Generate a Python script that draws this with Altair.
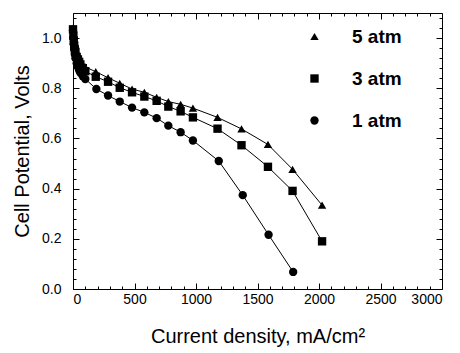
import altair as alt
import pandas as pd

# Current density (mA/cm2) and cell potential (V)
i_5 = [0, 3, 6, 10, 15, 20, 30, 40, 50, 60, 80, 100, 185, 285, 380, 480, 580, 680, 775, 875, 975, 1175, 1370, 1585, 1785, 2025]
v_5 = [1.04, 1.02, 1.00, 0.98, 0.965, 0.955, 0.94, 0.93, 0.92, 0.91, 0.895, 0.885, 0.866, 0.842, 0.820, 0.797, 0.784, 0.764, 0.747, 0.736, 0.721, 0.684, 0.638, 0.576, 0.477, 0.334]

i_3 = [0, 3, 6, 10, 15, 20, 30, 40, 50, 60, 80, 100, 185, 285, 380, 480, 580, 680, 775, 875, 975, 1175, 1370, 1585, 1785, 2025]
v_3 = [1.035, 1.01, 0.99, 0.97, 0.955, 0.945, 0.925, 0.915, 0.905, 0.895, 0.88, 0.868, 0.846, 0.826, 0.802, 0.784, 0.767, 0.750, 0.727, 0.708, 0.684, 0.639, 0.573, 0.487, 0.391, 0.19]

i_1 = [0, 3, 6, 10, 15, 20, 30, 40, 50, 60, 80, 100, 190, 285, 380, 480, 580, 680, 775, 875, 975, 1185, 1380, 1590, 1790]
v_1 = [1.03, 1.0, 0.975, 0.955, 0.935, 0.92, 0.90, 0.885, 0.872, 0.862, 0.848, 0.837, 0.797, 0.771, 0.747, 0.723, 0.704, 0.681, 0.651, 0.625, 0.592, 0.510, 0.374, 0.216, 0.068]

series = ["5 atm", "3 atm", "1 atm"]
shapes = ["triangle-up", "square", "circle"]

x_major = [0, 500, 1000, 1500, 2000, 2500, 3000]
x_minor = [v for v in range(0, 3001, 100) if v % 500 != 0]
y_major = [0.0, 0.2, 0.4, 0.6, 0.8, 1.0]
y_minor = [round(k * 0.04, 2) for k in range(0, 28) if round(k * 0.04, 2) not in y_major]

rows = []
for name, xs, vs in [("5 atm", i_5, v_5), ("3 atm", i_3, v_3), ("1 atm", i_1, v_1)]:
    for a, b in zip(xs, vs):
        rows.append({"I": a, "V": b, "P": name})
df = pd.DataFrame(rows)

FONT = "Liberation Sans"
xs = alt.Scale(domain=[0, 3000], nice=False, zero=False)
ys = alt.Scale(domain=[0, 1.1], nice=False, zero=False)

common = dict(grid=False, domain=False, tickColor="black", labelColor="black",
              titleColor="black", labelFont=FONT, titleFont=FONT, tickWidth=1)

ax_bottom = alt.Axis(orient="bottom", values=x_major, offset=-6, tickSize=6, labelPadding=3,
                     labelFontSize=14, format="d", title="Current density, mA/cm²",
                     titleFontSize=20, titleFontWeight="normal", titlePadding=20, **common)
ax_bottom_minor = alt.Axis(orient="bottom", values=x_minor, offset=-3, tickSize=3, labels=False,
                           title=None, **common)
ax_top = alt.Axis(orient="top", values=x_major, offset=-6, tickSize=6, labels=False, title=None, **common)
ax_top_minor = alt.Axis(orient="top", values=x_minor, offset=-3, tickSize=3, labels=False, title=None, **common)

ax_left = alt.Axis(orient="left", values=y_major, offset=-6, tickSize=6, labelPadding=12,
                   labelFontSize=14, format=".1f", title="Cell Potential, Volts",
                   titleFontSize=20, titleFontWeight="normal", titlePadding=9, **common)
ax_left_minor = alt.Axis(orient="left", values=y_minor, offset=-3, tickSize=3, labels=False,
                         title=None, **common)
ax_right = alt.Axis(orient="right", values=y_major, offset=-6, tickSize=6, labels=False, title=None, **common)
ax_right_minor = alt.Axis(orient="right", values=y_minor, offset=-3, tickSize=3, labels=False, title=None, **common)

base = alt.Chart(df)

lines = base.mark_line(color="black", strokeWidth=1).encode(
    x=alt.X("I:Q", scale=xs, axis=ax_bottom),
    y=alt.Y("V:Q", scale=ys, axis=ax_left),
    detail="P:N",
)

points = base.mark_point(filled=True, color="black", size=70, opacity=1).encode(
    x=alt.X("I:Q", scale=xs, axis=ax_bottom_minor),
    y=alt.Y("V:Q", scale=ys, axis=ax_left_minor),
    shape=alt.Shape("P:N", scale=alt.Scale(domain=series, range=shapes),
                    legend=alt.Legend(title=None, orient="none", legendX=232, legendY=14,
                                      labelFontSize=19, labelFontWeight="bold", labelFont=FONT,
                                      labelColor="black", symbolSize=70, symbolFillColor="black",
                                      symbolStrokeColor="black", symbolStrokeWidth=0,
                                      labelOffset=28, rowPadding=22)),
)

ghost1 = base.mark_point(opacity=0).encode(
    x=alt.X("I:Q", scale=xs, axis=ax_top),
    y=alt.Y("V:Q", scale=ys, axis=ax_right),
)
ghost2 = base.mark_point(opacity=0).encode(
    x=alt.X("I:Q", scale=xs, axis=ax_top_minor),
    y=alt.Y("V:Q", scale=ys, axis=ax_right_minor),
)

chart = alt.layer(lines, points, ghost1, ghost2).resolve_axis(
    x="independent", y="independent"
).properties(
    width=369, height=276,
    autosize=alt.AutoSizeParams(type="none"),
    padding={"left": 65, "top": 5, "right": 10, "bottom": 60},
    background="white",
).configure_view(stroke="black", strokeWidth=1)

chart.save("out.html", embed_options={"renderer": "svg", "actions": False})
